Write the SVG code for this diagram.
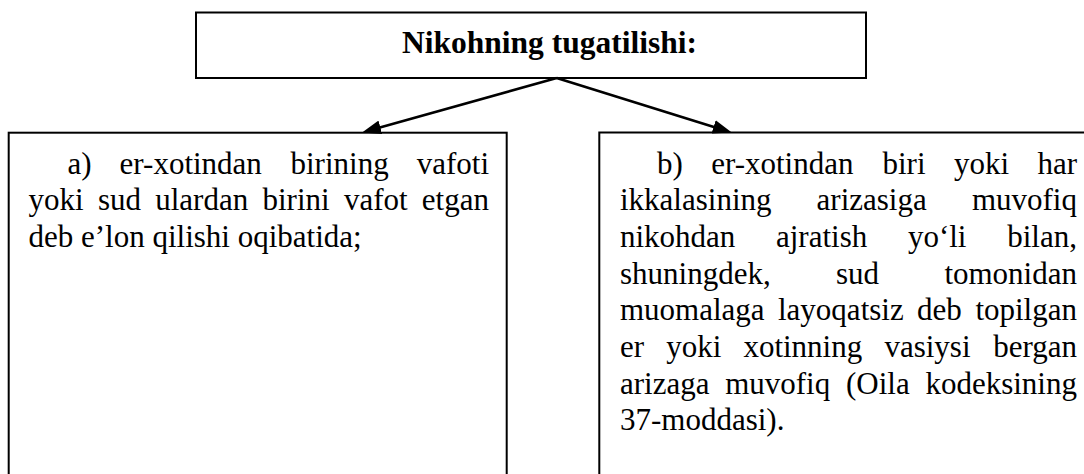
<svg xmlns="http://www.w3.org/2000/svg" width="1084" height="474" viewBox="0 0 1084 474">
  <defs>
    <style>
      .box { fill: #ffffff; stroke: #000000; stroke-width: 2; }
      .conn { fill: none; stroke: #000000; stroke-width: 2.6; }
      .title { font-family: "Liberation Serif", "Times New Roman", serif; font-size: 31.5px; font-weight: bold; fill: #000000; }
      .body { font-family: "Liberation Serif", "Times New Roman", serif; font-size: 31px; fill: #000000; }
    </style>
    <marker id="arrow" markerUnits="userSpaceOnUse" markerWidth="19" markerHeight="14" refX="7" refY="7" orient="auto">
      <path d="M0,0 L19,7 L0,14 z" fill="#000000"/>
    </marker>
  </defs>
  <rect width="1084" height="474" fill="#ffffff"/>

  <g id="node-title">
    <rect class="box" x="196" y="12.5" width="670" height="65.5"/>
    <text class="title" x="402" y="53">Nikohning tugatilishi:</text>
  </g>

  <g id="node-a">
    <rect class="box" x="8.7" y="132.7" width="498" height="360"/>
    <text class="body" y="173.5">
      <tspan x="67.5">a)</tspan><tspan x="119.6">er-xotindan</tspan><tspan x="290.5">birining</tspan><tspan x="489" text-anchor="end">vafoti</tspan>
    </text>
    <text class="body" y="210.2">
      <tspan x="28.5">yoki</tspan><tspan x="97.9">sud</tspan><tspan x="155.2">ulardan</tspan><tspan x="262.5">birini</tspan><tspan x="343.9">vafot</tspan><tspan x="489" text-anchor="end">etgan</tspan>
    </text>
    <text class="body" x="28.5" y="246.9">deb e’lon qilishi oqibatida;</text>
  </g>

  <g id="node-b">
    <rect class="box" x="599.3" y="132.5" width="520" height="360"/>
    <text class="body" y="173.5">
      <tspan x="657">b)</tspan><tspan x="711.2">er-xotindan</tspan><tspan x="882.5">biri</tspan><tspan x="954">yoki</tspan><tspan x="1077" text-anchor="end">har</tspan>
    </text>
    <text class="body" y="210.2">
      <tspan x="620">ikkalasining</tspan><tspan x="816.6">arizasiga</tspan><tspan x="1077" text-anchor="end">muvofiq</tspan>
    </text>
    <text class="body" y="246.9">
      <tspan x="620">nikohdan</tspan><tspan x="776">ajratish</tspan><tspan x="907.9">yo‘li</tspan><tspan x="1077" text-anchor="end">bilan,</tspan>
    </text>
    <text class="body" y="283.6">
      <tspan x="620">shuningdek,</tspan><tspan x="836">sud</tspan><tspan x="1077" text-anchor="end">tomonidan</tspan>
    </text>
    <text class="body" y="320.3">
      <tspan x="620">muomalaga</tspan><tspan x="778">layoqatsiz</tspan><tspan x="917.1">deb</tspan><tspan x="1077" text-anchor="end">topilgan</tspan>
    </text>
    <text class="body" y="357">
      <tspan x="620">er</tspan><tspan x="666.2">yoki</tspan><tspan x="743.4">xotinning</tspan><tspan x="884.4">vasiysi</tspan><tspan x="1077" text-anchor="end">bergan</tspan>
    </text>
    <text class="body" y="393.7">
      <tspan x="620">arizaga</tspan><tspan x="725.2">muvofiq</tspan><tspan x="846">(Oila</tspan><tspan x="1077" text-anchor="end">kodeksining</tspan>
    </text>
    <text class="body" x="620" y="430.4">37-moddasi).</text>
  </g>

  <g id="connectors">
    <path class="conn" d="M556.7,78 L373.6,129.2" marker-end="url(#arrow)"/>
    <path class="conn" d="M556.7,78 L720.3,128.9" marker-end="url(#arrow)"/>
  </g>
</svg>
